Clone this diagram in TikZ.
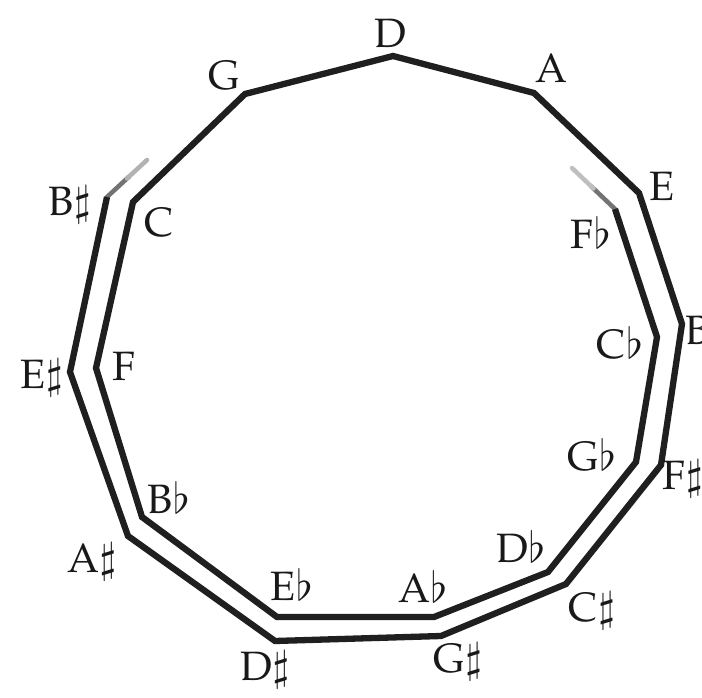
\documentclass[tikz,border=0pt]{standalone}
\usepackage[T1]{fontenc}
\usepackage{mathpazo}
\usetikzlibrary{calc}
\begin{document}
\begin{tikzpicture}[x=1pt,y=-1pt,
  spiral/.style={line width=6.3pt, black!88, line join=miter, line cap=butt},
  stub/.style={line width=4.5pt, line cap=round},
  lab/.style={font=\fontsize{41}{46}\selectfont, inner sep=0pt, text=black!90}]
\useasboundingbox[fill=white] (0,0) rectangle (702,698);
% outer vertices
\coordinate (sB) at (147,160);
\coordinate (vBs) at (107,197);
\coordinate (vEs) at (70,372);
\coordinate (vAs) at (128,536);
\coordinate (vDs) at (275,641);
\coordinate (vGs) at (441,636);
\coordinate (vCs) at (566,584);
\coordinate (vFs) at (661,465);
\coordinate (vB) at (682,324);
\coordinate (vE) at (639,193);
\coordinate (vA) at (534,93);
\coordinate (vD) at (393,56);
\coordinate (vG) at (245,94);
\coordinate (vC) at (133,202);
\coordinate (vF) at (96,368);
\coordinate (vBb) at (142,517);
\coordinate (vEb) at (277,617);
\coordinate (vAb) at (434,617);
\coordinate (vDb) at (548,572);
\coordinate (vGb) at (636,462);
\coordinate (vCb) at (657,337);
\coordinate (vFb) at (615,209);
\coordinate (sF) at (572,168);
% grey stubs
\draw[stub, black!55] (vBs) -- ($(vBs)!0.55!(sB)$);
\draw[stub, black!30] ($(vBs)!0.5!(sB)$) -- (sB);
\draw[stub, black!55] (vFb) -- ($(vFb)!0.55!(sF)$);
\draw[stub, black!25] ($(vFb)!0.5!(sF)$) -- (sF);
% spiral
\draw[spiral] (vBs) -- (vEs) -- (vAs) -- (vDs) -- (vGs) -- (vCs) -- (vFs) -- (vB) -- (vE) -- (vA) -- (vD) -- (vG) -- (vC) -- (vF) -- (vBb) -- (vEb) -- (vAb) -- (vDb) -- (vGb) -- (vCb) -- (vFb);
% labels
\node[lab] (lD) at (390,33) {D};
\node[lab] (lA) at (551,68) {A};
\node[lab] (lE) at (662,186) {E};
\node[lab] (lB) at (698,330) {B};
\node[lab] (lG) at (224,76) {G};
\node[lab] (lBs) at (70,205) {B$\sharp$};
\node[lab] (lC) at (159,223) {C};
\node[lab] (lEs) at (42,378) {E$\sharp$};
\node[lab] (lF) at (124,366) {F};
\node[lab] (lAs) at (92,562) {A$\sharp$};
\node[lab] (lBb) at (169,498) {B$\flat$};
\node[lab] (lDs) at (265,670) {D$\sharp$};
\node[lab] (lEb) at (292,585) {E$\flat$};
\node[lab] (lGs) at (458,662) {G$\sharp$};
\node[lab] (lAb) at (423,587) {A$\flat$};
\node[lab] (lCs) at (592,611) {C$\sharp$};
\node[lab] (lDb) at (521,547) {D$\flat$};
\node[lab] (lFs) at (683,479) {F$\sharp$};
\node[lab] (lGb) at (592,455) {G$\flat$};
\node[lab] (lCb) at (620,343) {C$\flat$};
\node[lab] (lFb) at (591,233) {F$\flat$};
\end{tikzpicture}
\end{document}
